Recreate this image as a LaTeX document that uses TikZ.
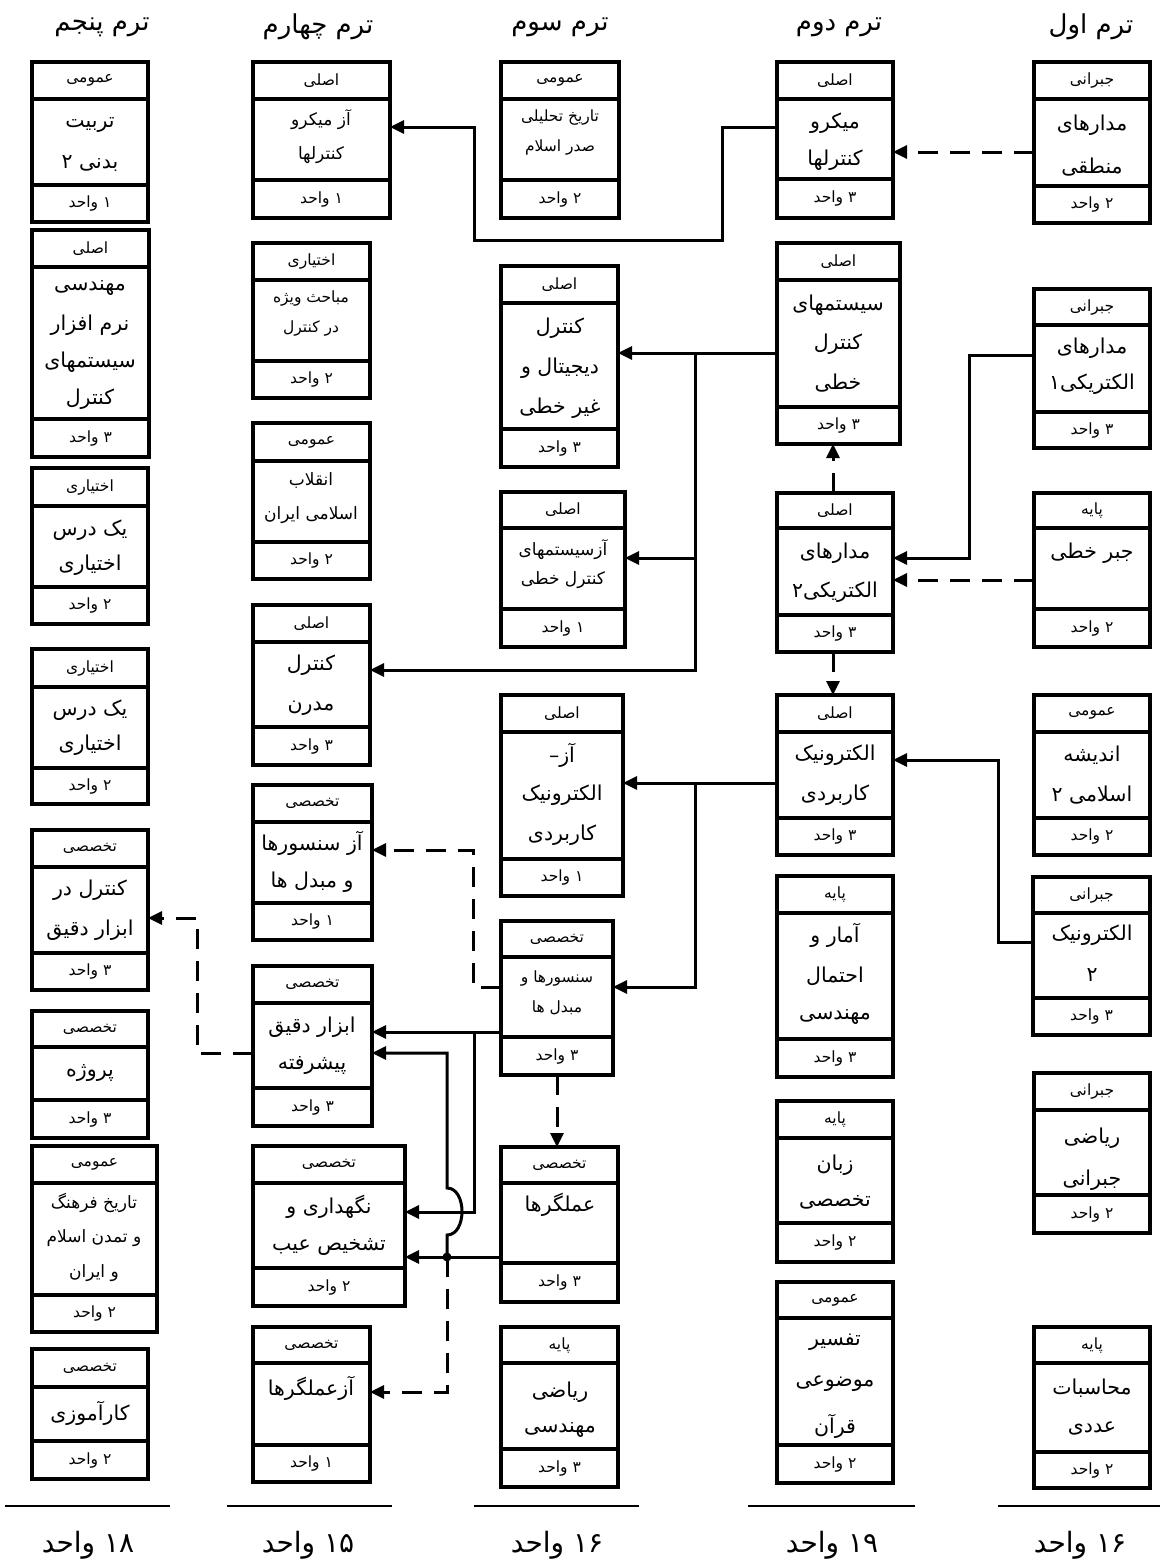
\documentclass[tikz,border=0pt]{standalone}
\usepackage{fontspec}
\newfontfamily\arabicfont[Script=Arabic]{DejaVu Sans}
\TeXXeTstate=1
\usetikzlibrary{arrows.meta}
\tikzset{
  x=1pt, y=-1pt,
  boxst/.style={draw, line width=4pt, inner sep=0pt, outer sep=0pt},
  divst/.style={line width=4pt},
  hdr/.style={font=\arabicfont\fontsize{15.5}{18}\selectfont, inner sep=0pt},
  big/.style={font=\arabicfont\fontsize{20.5}{24}\selectfont, inner sep=0pt},
  med/.style={font=\arabicfont\fontsize{17}{20}\selectfont, inner sep=0pt},
  sml/.style={font=\arabicfont\fontsize{15.5}{18}\selectfont, inner sep=0pt},
  ttl/.style={font=\arabicfont\fontsize{26}{30}\selectfont, inner sep=0pt},
  sumt/.style={font=\arabicfont\fontsize{28}{32}\selectfont, inner sep=0pt},
  conn/.style={line width=3pt},
  arr/.style={-{Triangle[length=14pt,width=13pt]}},
  dsh/.style={dash pattern=on 20pt off 12pt},
  sumst/.style={line width=2.6pt},
}
% #1 name, #2 x1, #3 x2, #4 top, #5 header line, #6 footer line, #7 bottom, #8 header, #9 footer
\newcommand\crs[9]{%
  \node[boxst, minimum width={(#3)-(#2)}, minimum height={(#7)-(#4)}] (#1) at ({(#2+#3)/2},{(#4+#7)/2}) {};
  \draw[divst] (#2,#5) -- (#3,#5) (#2,#6) -- (#3,#6);
  \node[hdr] (#1h) at ({(#2+#3)/2},{(#5+#4)/2}) {#8};
  \node[hdr] (#1f) at ({(#2+#3)/2},{(#6+#7)/2}) {#9};
}
% #1 name, #2 x, #3 first y, #4 pitch, #5 style, #6 lines
\newcommand\bodytext[6]{%
  \foreach \lin [count=\i] in {#6} {\node[#5] (#1b\i) at (#2,{#3+(\i-1)*#4}) {\lin};}
}
\begin{document}
\begin{tikzpicture}
\useasboundingbox (0,0) rectangle (1160,1564);

% titles
\node[ttl] (t5) at (102,27) {\beginR ترم پنجم\endR};
\node[ttl] (t4) at (318,27) {\beginR ترم چهارم\endR};
\node[ttl] (t3) at (560,27) {\beginR ترم سوم\endR};
\node[ttl] (t2) at (839,27) {\beginR ترم دوم\endR};
\node[ttl] (t1) at (1091,27) {\beginR ترم اول\endR};

% column 5
\crs{c5a}{32}{148}{62}{99}{185}{222}{\beginR عمومی\endR}{\beginR ۱ واحد\endR}
\bodytext{c5a}{90}{125}{38}{big}{\beginR تربیت\endR,\beginR بدنی ۲\endR}
\crs{c5b}{32}{149}{230}{267}{419}{457}{\beginR اصلی\endR}{\beginR ۳ واحد\endR}
\bodytext{c5b}{90}{288}{37}{big}{\beginR مهندسی\endR,\beginR نرم افزار\endR,\beginR سیستمهای\endR,\beginR کنترل\endR}
\crs{c5c}{32}{148}{468}{506}{587}{624}{\beginR اختیاری\endR}{\beginR ۲ واحد\endR}
\bodytext{c5c}{90}{530}{35}{big}{\beginR یک درس\endR,\beginR اختیاری\endR}
\crs{c5d}{32}{148}{649}{687}{768}{804}{\beginR اختیاری\endR}{\beginR ۲ واحد\endR}
\bodytext{c5d}{90}{710}{35}{big}{\beginR یک درس\endR,\beginR اختیاری\endR}
\crs{c5e}{32}{148}{830}{867}{953}{990}{\beginR تخصصی\endR}{\beginR ۳ واحد\endR}
\bodytext{c5e}{90}{890}{40}{big}{\beginR کنترل در\endR,\beginR ابزار دقیق\endR}
\crs{c5f}{32}{148}{1011}{1047}{1100}{1138}{\beginR تخصصی\endR}{\beginR ۳ واحد\endR}
\bodytext{c5f}{90}{1073}{38}{big}{\beginR پروژه\endR}
\crs{c5g}{32}{157}{1146}{1183}{1295}{1332}{\beginR عمومی\endR}{\beginR ۲ واحد\endR}
\bodytext{c5g}{94}{1203}{35}{med}{\beginR تاریخ فرهنگ\endR,\beginR و تمدن اسلام\endR,\beginR و ایران\endR}
\crs{c5h}{32}{148}{1349}{1387}{1441}{1479}{\beginR تخصصی\endR}{\beginR ۲ واحد\endR}
\bodytext{c5h}{90}{1413}{38}{big}{\beginR کارآموزی\endR}

% column 4
\crs{c4a}{253}{390}{62}{99}{180}{218}{\beginR اصلی\endR}{\beginR ۱ واحد\endR}
\bodytext{c4a}{321}{120}{35}{med}{\beginR آز میکرو\endR,\beginR کنترلها\endR}
\crs{c4b}{253}{370}{243}{280}{361}{398}{\beginR اختیاری\endR}{\beginR ۲ واحد\endR}
\bodytext{c4b}{311}{298}{30}{sml}{\beginR مباحث ویژه\endR,\beginR در کنترل\endR}
\crs{c4c}{253}{370}{423}{461}{542}{579}{\beginR عمومی\endR}{\beginR ۲ واحد\endR}
\bodytext{c4c}{311}{480}{35}{med}{\beginR انقلاب\endR,\beginR اسلامی ایران\endR}
\crs{c4d}{253}{370}{605}{642}{727}{765}{\beginR اصلی\endR}{\beginR ۳ واحد\endR}
\bodytext{c4d}{311}{665}{43}{big}{\beginR کنترل\endR,\beginR مدرن\endR}
\crs{c4e}{253}{372}{785}{822}{903}{940}{\beginR تخصصی\endR}{\beginR ۱ واحد\endR}
\bodytext{c4e}{312}{843}{39}{big}{\beginR آز سنسورها\endR,\beginR و مبدل ها\endR}
\crs{c4f}{253}{372}{966}{1003}{1088}{1126}{\beginR تخصصی\endR}{\beginR ۳ واحد\endR}
\bodytext{c4f}{312}{1027}{38}{big}{\beginR ابزار دقیق\endR,\beginR پیشرفته\endR}
\crs{c4g}{253}{405}{1146}{1183}{1268}{1306}{\beginR تخصصی\endR}{\beginR ۲ واحد\endR}
\bodytext{c4g}{329}{1207}{40}{big}{\beginR نگهداری و\endR,\beginR تشخیص عیب\endR}
\crs{c4h}{253}{370}{1327}{1363}{1445}{1482}{\beginR تخصصی\endR}{\beginR ۱ واحد\endR}
\bodytext{c4h}{311}{1388}{38}{big}{\beginR آزعملگرها\endR}

% column 3
\crs{c3a}{501}{619}{62}{99}{180}{218}{\beginR عمومی\endR}{\beginR ۲ واحد\endR}
\bodytext{c3a}{560}{117}{30}{sml}{\beginR تاریخ تحلیلی\endR,\beginR صدر اسلام\endR}
\crs{c3b}{501}{618}{266}{303}{429}{467}{\beginR اصلی\endR}{\beginR ۳ واحد\endR}
\bodytext{c3b}{560}{328}{40}{big}{\beginR کنترل\endR,\beginR دیجیتال و\endR,\beginR غیر خطی\endR}
\crs{c3c}{501}{625}{492}{528}{609}{647}{\beginR اصلی\endR}{\beginR ۱ واحد\endR}
\bodytext{c3c}{563}{550}{30}{med}{\beginR آزسیستمهای\endR,\beginR کنترل خطی\endR}
\crs{c3d}{501}{623}{695}{732}{859}{896}{\beginR اصلی\endR}{\beginR ۱ واحد\endR}
\bodytext{c3d}{562}{755}{40}{big}{\beginR آز–\endR,\beginR الکترونیک\endR,\beginR کاربردی\endR}
\crs{c3e}{501}{613}{921}{957}{1037}{1075}{\beginR تخصصی\endR}{\beginR ۳ واحد\endR}
\bodytext{c3e}{557}{978}{30}{sml}{\beginR سنسورها و\endR,\beginR مبدل ها\endR}
\crs{c3f}{501}{618}{1147}{1183}{1263}{1302}{\beginR تخصصی\endR}{\beginR ۳ واحد\endR}
\bodytext{c3f}{560}{1205}{38}{big}{\beginR عملگرها\endR}
\crs{c3g}{501}{618}{1327}{1363}{1449}{1487}{\beginR پایه\endR}{\beginR ۳ واحد\endR}
\bodytext{c3g}{560}{1392}{38}{big}{\beginR ریاضی\endR,\beginR مهندسی\endR}

% column 2
\crs{c2a}{777}{893}{62}{99}{179}{218}{\beginR اصلی\endR}{\beginR ۳ واحد\endR}
\bodytext{c2a}{835}{123}{37}{big}{\beginR میکرو\endR,\beginR کنترلها\endR}
\crs{c2b}{777}{900}{243}{280}{407}{444}{\beginR اصلی\endR}{\beginR ۳ واحد\endR}
\bodytext{c2b}{838}{305}{39}{big}{\beginR سیستمهای\endR,\beginR کنترل\endR,\beginR خطی\endR}
\crs{c2c}{777}{893}{493}{528}{615}{652}{\beginR اصلی\endR}{\beginR ۳ واحد\endR}
\bodytext{c2c}{835}{553}{39}{big}{\beginR مدارهای\endR,\beginR الکتریکی۲\endR}
\crs{c2d}{777}{893}{695}{732}{818}{855}{\beginR اصلی\endR}{\beginR ۳ واحد\endR}
\bodytext{c2d}{835}{755}{40}{big}{\beginR الکترونیک\endR,\beginR کاربردی\endR}
\crs{c2e}{777}{893}{876}{913}{1039}{1077}{\beginR پایه\endR}{\beginR ۳ واحد\endR}
\bodytext{c2e}{835}{935}{41}{big}{\beginR آمار و\endR,\beginR احتمال\endR,\beginR مهندسی\endR}
\crs{c2f}{777}{893}{1101}{1138}{1223}{1262}{\beginR پایه\endR}{\beginR ۲ واحد\endR}
\bodytext{c2f}{835}{1165}{37}{big}{\beginR زبان\endR,\beginR تخصصی\endR}
\crs{c2g}{777}{893}{1282}{1318}{1445}{1483}{\beginR عمومی\endR}{\beginR ۲ واحد\endR}
\bodytext{c2g}{835}{1342}{42}{big}{\beginR تفسیر\endR,\beginR موضوعی\endR,\beginR قرآن\endR}

% column 1
\crs{c1a}{1034}{1150}{62}{99}{186}{223}{\beginR جبرانی\endR}{\beginR ۲ واحد\endR}
\bodytext{c1a}{1092}{125}{42}{big}{\beginR مدارهای\endR,\beginR منطقی\endR}
\crs{c1b}{1034}{1150}{289}{325}{412}{448}{\beginR جبرانی\endR}{\beginR ۳ واحد\endR}
\bodytext{c1b}{1092}{348}{36}{big}{\beginR مدارهای\endR,\beginR الکتریکی۱\endR}
\crs{c1c}{1034}{1150}{493}{528}{609}{647}{\beginR پایه\endR}{\beginR ۲ واحد\endR}
\bodytext{c1c}{1092}{553}{38}{big}{\beginR جبر خطی\endR}
\crs{c1d}{1034}{1150}{695}{732}{818}{855}{\beginR عمومی\endR}{\beginR ۲ واحد\endR}
\bodytext{c1d}{1092}{755}{40}{big}{\beginR اندیشه\endR,\beginR اسلامی ۲\endR}
\crs{c1e}{1033}{1150}{877}{913}{998}{1035}{\beginR جبرانی\endR}{\beginR ۳ واحد\endR}
\bodytext{c1e}{1092}{935}{40}{big}{\beginR الکترونیک\endR,\beginR ۲\endR}
\crs{c1f}{1034}{1150}{1073}{1110}{1195}{1233}{\beginR جبرانی\endR}{\beginR ۲ واحد\endR}
\bodytext{c1f}{1092}{1138}{42}{big}{\beginR ریاضی\endR,\beginR جبرانی\endR}
\crs{c1g}{1034}{1150}{1327}{1363}{1452}{1488}{\beginR پایه\endR}{\beginR ۲ واحد\endR}
\bodytext{c1g}{1092}{1388}{40}{big}{\beginR محاسبات\endR,\beginR عددی\endR}

% junctions
\coordinate (j1) at (695,353);
\coordinate (j2) at (695,783);
\coordinate (j3) at (474,1032);
\coordinate (j4) at (447,1257);

% connectors
\draw[conn,dsh,arr] (c1a.west |- 0,152) -- (c2a.east |- 0,152);
\draw[conn,arr] (c2a.west |- 0,127) -| (722,240) -| (474,127) -- (c4a.east |- 0,127);
\draw[conn,arr] (c2b.west |- 0,353) -- (c3b.east |- 0,353);
\draw[conn,arr] (j1) |- (c4d.east |- 0,670);
\draw[conn,arr] (695,558) -- (c3c.east |- 0,558);
\draw[conn,arr] (c1b.west |- 0,355) -| (969,558) -- (c2c.east |- 0,558);
\draw[conn,dsh,arr] (c1c.west |- 0,580) -- (c2c.east |- 0,580);
\draw[conn,dsh,arr] (c2c.north -| 833,0) -- (c2b.south -| 833,0);
\draw[conn,dsh,arr] (c2c.south -| 833,0) -- (c2d.north -| 833,0);
\draw[conn,arr] (c1e.west |- 0,942) -| (998,760) -- (c2d.east |- 0,760);
\draw[conn,arr] (c2d.west |- 0,783) -- (c3d.east |- 0,783);
\draw[conn,arr] (j2) |- (c3e.east |- 0,987);
\draw[conn,dsh,arr] (c3e.west |- 0,987) -| (473,850) -- (c4e.east |- 0,850);
\draw[conn,arr] (c3e.west |- 0,1032) -- (c4f.east |- 0,1032);
\draw[conn,arr] (j3) |- (c4g.east |- 0,1212);
\draw[conn,arr] (c3f.west |- 0,1257) -- (c4g.east |- 0,1257);
\draw[conn,arr] (j4) -- (447,1235) .. controls (467,1235) and (467,1188) .. (447,1188) |- (c4f.east |- 0,1053);
\fill (j4) circle (4.5pt);
\draw[conn,dsh,arr] (j4) |- (c4h.east |- 0,1392);
\draw[conn,dsh,arr] (c4f.west |- 0,1053) -| (197,918) -- (c5e.east |- 0,918);
\draw[conn,dsh,arr] (c3e.south -| 557,0) -- (c3f.north -| 557,0);

% sums
\draw[sumst] (5,1506) -- (170,1506);
\draw[sumst] (227,1506) -- (392,1506);
\draw[sumst] (474,1506) -- (639,1506);
\draw[sumst] (748,1506) -- (915,1506);
\draw[sumst] (998,1506) -- (1160,1506);
\node[sumt] (s5) at (88,1545) {\beginR\beginL ۱۸\endL{} واحد\endR};
\node[sumt] (s4) at (308,1545) {\beginR\beginL ۱۵\endL{} واحد\endR};
\node[sumt] (s3) at (557,1545) {\beginR\beginL ۱۶\endL{} واحد\endR};
\node[sumt] (s2) at (832,1545) {\beginR\beginL ۱۹\endL{} واحد\endR};
\node[sumt] (s1) at (1080,1545) {\beginR\beginL ۱۶\endL{} واحد\endR};
\end{tikzpicture}
\end{document}
